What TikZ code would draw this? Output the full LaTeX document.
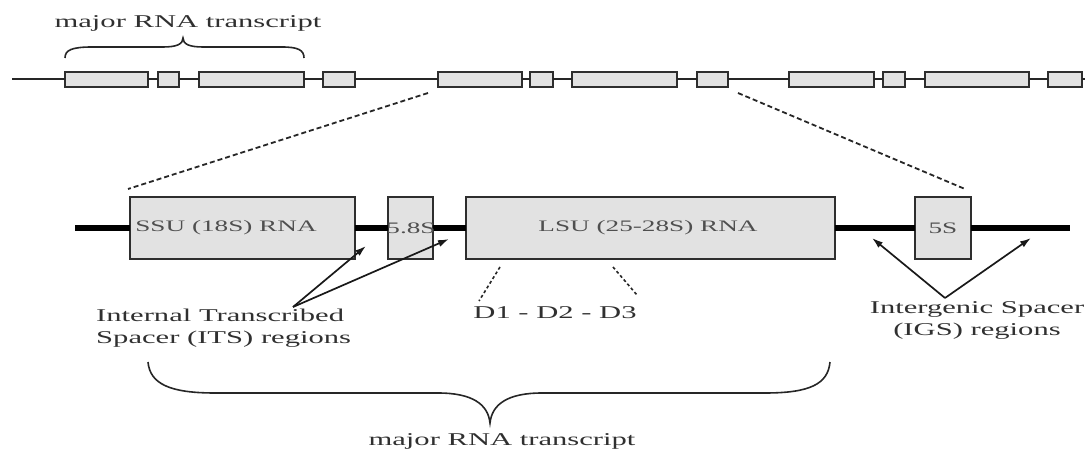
\documentclass[tikz,border=0pt]{standalone}
\usepackage{fontspec}
\setmainfont{Liberation Serif}[FakeStretch=1.7]
\usetikzlibrary{arrows.meta}
\definecolor{boxfill}{HTML}{E2E2E2}
\definecolor{boxline}{HTML}{2E2E2E}
\definecolor{txt}{HTML}{303030}
\tikzset{
  tbox/.style={draw=boxline, fill=boxfill, line width=2pt, minimum height=15pt, inner sep=0pt, outer sep=0pt},
  bbox/.style={draw=boxline, fill=boxfill, line width=2.2pt, minimum height=62pt, inner sep=0pt, outer sep=0pt},
  thinline/.style={line width=2pt, draw=black!85},
  thickline/.style={line width=6.5pt, draw=black},
  zoomline/.style={line width=1.8pt, dash pattern=on 5pt off 3pt, draw=black!85},
  dline/.style={line width=1.6pt, dash pattern=on 3pt off 2.5pt, draw=black!85},
  ptr/.style={line width=1.7pt, draw=black!90, -{Latex[length=11pt,width=7pt]}},
  lbl/.style={font=\fontsize{18}{22}\selectfont, text=txt, inner sep=0pt},
  boxlbl/.style={font=\fontsize{16}{19}\selectfont, text=txt!85, inner sep=0pt},
  brace/.style={line width=1.6pt, draw=black!85}
}
\begin{document}
\begin{tikzpicture}[x=1pt, y=-1pt]
\useasboundingbox (0,0) rectangle (1085,452);
% top row
\coordinate (tstart) at (12,79.5);
\coordinate (tend) at (1085,79.5);
\foreach \l/\r [count=\i] in {65/148,158/179,199/304,323/355,438/522,530/553,572/677,697/728,789/874,883/905,925/1029,1048/1082}
  \node[tbox, minimum width={\r-\l}] (t\i) at ({(\l+\r)/2},79.5) {};
\draw[thinline] (tstart) -- (t1.west);
\foreach \a/\b in {1/2,2/3,3/4,4/5,5/6,6/7,7/8,8/9,9/10,10/11,11/12}
  \draw[thinline] (t\a.east) -- (t\b.west);
\draw[thinline] (t12.east) -- (tend);
% top brace
\coordinate (tbl) at (65,58);
\coordinate (tbr) at (304,58);
\coordinate (tbc) at (183,38);
\draw[brace] (tbl) .. controls (65,50) and (72,47) .. (92,47) -- (163,47)
  .. controls (177,47) and (183,44) .. (tbc)
  .. controls (183,44) and (189,47) .. (203,47) -- (282,47)
  .. controls (298,47) and (304,50) .. (tbr);
\node[lbl, anchor=base] (toplbl) at (188,28) {major RNA transcript};
% bottom row
\coordinate (bstart) at (75,228);
\coordinate (bend) at (1070,228);
\node[bbox, minimum width=225] (ssu) at (242.5,228) {};
\node[bbox, minimum width=45] (s58) at (410.5,228) {};
\node[bbox, minimum width=369] (lsu) at (650.5,228) {};
\node[bbox, minimum width=56] (s5) at (943,228) {};
\draw[thickline] (bstart) -- (ssu.west);
\draw[thickline] (ssu.east) -- (s58.west);
\draw[thickline] (s58.east) -- (lsu.west);
\draw[thickline] (lsu.east) -- (s5.west);
\draw[thickline] (s5.east) -- (bend);
\node[boxlbl] (ssulbl) at (226,228) {SSU (18S) RNA};
\node[boxlbl] (s58lbl) at (411,228) {5.8S};
\node[boxlbl] (lsulbl) at (648,228) {LSU (25-28S) RNA};
\node[boxlbl] (s5lbl) at (943,228) {5S};
% zoom lines
\coordinate (zl1) at (428,93);
\coordinate (zl2) at (128,189);
\coordinate (zr1) at (738,93);
\coordinate (zr2) at (965,189);
\draw[zoomline] (zl1) -- (zl2);
\draw[zoomline] (zr1) -- (zr2);
% D lines
\coordinate (d1a) at (500,267);
\coordinate (d1b) at (479,301);
\coordinate (d3a) at (613,267);
\coordinate (d3b) at (637,295);
\draw[dline] (d1a) -- (d1b);
\draw[dline] (d3a) -- (d3b);
\node[lbl, anchor=base] (dlbl) at (555,318) {D1 - D2 - D3};
% ITS arrows
\coordinate (itsapex) at (293,307);
\coordinate (itsa) at (366,246);
\coordinate (itsb) at (449,239);
\draw[ptr] (itsapex) -- (itsa);
\draw[ptr] (itsapex) -- (itsb);
\node[lbl, anchor=north west, align=left] (itslbl) at (96,309) {Internal Transcribed\\Spacer (ITS) regions};
% IGS arrows
\coordinate (igsapex) at (945,298);
\coordinate (igsa) at (872,238);
\coordinate (igsb) at (1031,238);
\draw[ptr] (igsapex) -- (igsa);
\draw[ptr] (igsapex) -- (igsb);
\node[lbl, anchor=north, align=center] (igslbl) at (977,301) {Intergenic Spacer\\(IGS) regions};
% bottom brace
\coordinate (bbl) at (148,362);
\coordinate (bbr) at (830,362);
\coordinate (bbc) at (490,423);
\draw[brace] (bbl) .. controls (150,384) and (170,393) .. (215,393) -- (438,393)
  .. controls (472,393) and (488,404) .. (bbc)
  .. controls (492,404) and (508,393) .. (542,393) -- (765,393)
  .. controls (810,393) and (828,384) .. (bbr);
\node[lbl, anchor=base] (botlbl) at (502,445) {major RNA transcript};
\end{tikzpicture}
\end{document}
